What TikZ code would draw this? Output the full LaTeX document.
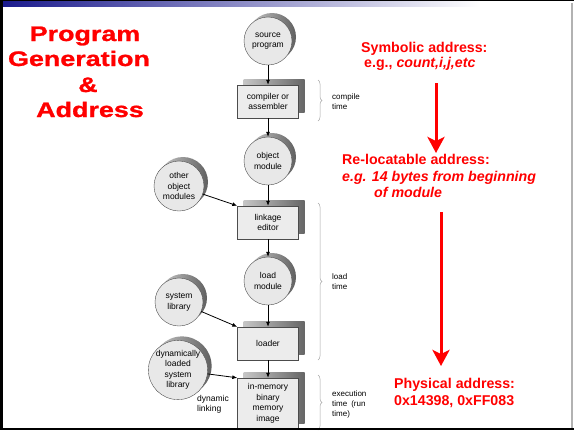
\documentclass[tikz,border=0pt]{standalone}
\usepackage{fontspec}
\setmainfont{Liberation Sans}
\newfontfamily\titlefont[FakeStretch=1.28,FakeBold=1.2]{Liberation Sans}
\usetikzlibrary{arrows.meta,shadows,decorations.pathreplacing}
\begin{document}
\begin{tikzpicture}[x=1pt,y=-1pt,
    modc/.style={circle, draw=gray!60!black, fill=gray!18, minimum size=48pt, inner sep=0pt,
      align=center, font=\fontsize{8.5}{10.5}\selectfont,
      general shadow={shadow xshift=4pt, shadow yshift=4pt, left color=gray!40, right color=gray!75!black}},
    prog/.style={rectangle, draw=gray!60!black, fill=gray!15, minimum width=61pt, minimum height=33pt,
      inner sep=1pt, align=center, font=\fontsize{8.5}{10.5}\selectfont,
      general shadow={shadow xshift=6pt, shadow yshift=6pt, left color=gray!45, right color=gray!80!black}},
    arr/.style={-{Latex[length=5pt,width=4pt]}, line width=0.8pt},
    redarr/.style={draw=red, line width=3pt, -{Stealth[length=16pt,width=17pt,inset=4pt]}},
    brc/.style={decorate, decoration={brace, amplitude=4pt}, draw=gray!70, line width=0.5pt},
    lbl/.style={anchor=west, align=left, inner sep=0pt, font=\fontsize{8}{10}\selectfont},
    big/.style={anchor=base west, inner sep=0pt, text=red, font=\fontsize{14.2}{17}\selectfont\bfseries},
    ttl/.style={anchor=base, inner sep=0pt, text=red, font=\titlefont\fontsize{21}{25}\selectfont\bfseries}]
    \useasboundingbox (0,0) rectangle (574,432);
    % slide frame
    \fill[black] (0,0) rectangle (574,1.2);
    \shade[left color={rgb,255:red,25;green,25;blue,140}, right color=white] (0,1.2) rectangle (480,6);
    \fill[gray!60] (571,3) rectangle (573,430);
    % title
    \node[ttl] (t1) at (85,41) {Program};
    \node[ttl] (t2) at (79,66) {Generation};
    \node[ttl] (t3) at (88,92) {\&};
    \node[ttl] (t4) at (90,117) {Address};
    % main chain
    \node[modc] (src) at (268,41) {source\\program};
    \node[prog] (comp) at (268,101.5) {compiler or\\assembler};
    \node[modc] (obj) at (268,161) {object\\module};
    \node[prog] (link) at (268,222.5) {linkage\\editor};
    \node[modc] (load) at (268,281) {load\\module};
    \node[prog] (ldr) at (268,343.5) {loader};
    \node[prog, minimum height=51pt] (mem) at (268,403.5) {in-memory\\binary\\memory\\image};
    % side inputs
    \node[modc, minimum size=50pt] (oth) at (179,186) {other\\object\\modules};
    \node[modc] (sys) at (179,302) {system\\library};
    \node[modc, minimum size=54pt] (dyn) at (178,370) {dynamically\\loaded\\system\\library};
    \node[lbl, font=\fontsize{8.5}{10.5}\selectfont] (dl) at (197,404.5) {dynamic\\linking};
    \draw[arr] (src) -- (comp);
    \draw[arr] (comp) -- (obj);
    \draw[arr] (obj) -- (link);
    \draw[arr] (link) -- (load);
    \draw[arr] (load) -- (ldr);
    \draw[arr] (ldr) -- (mem);
    \draw[arr] (oth) -- (link.north west);
    \draw[arr] (sys) -- (ldr.north west);
    \draw[arr] (dyn) -- (mem.north west);
    % time braces
    \coordinate (c1) at (318,80);
    \coordinate (c2) at (318,121);
    \coordinate (l1) at (318,203);
    \coordinate (l2) at (318,360);
    \coordinate (e1) at (318,375);
    \coordinate (e2) at (318,430);
    \draw[brc] (c1) -- (c2);
    \draw[brc] (l1) -- (l2);
    \draw[brc] (e1) -- (e2);
    \node[lbl] (ct) at (332,102) {compile\\time};
    \node[lbl] (lt) at (332,282) {load\\time};
    \node[lbl] (et) at (332,404) {execution\\time\enspace(run\\time)};
    % addresses
    \node[big] (sym1) at (361,52) {Symbolic address:};
    \node[big] (sym2) at (364,67) {e.g., \textit{count,i,j,etc}};
    \node[big] (rel1) at (342,164) {Re-locatable address:};
    \node[big] (rel2) at (342,181) {\textit{e.g. 14 bytes from beginning}};
    \node[big] (rel3) at (374,197) {\textit{of module}};
    \node[big] (phy1) at (394,388) {Physical address:};
    \node[big] (phy2) at (394,405) {0x14398, 0xFF083};
    \coordinate (ra1) at (436,83);
    \coordinate (ra2) at (436,153);
    \coordinate (rb1) at (441,212);
    \coordinate (rb2) at (441,366);
    \draw[redarr] (ra1) -- (ra2);
    \draw[redarr] (rb1) -- (rb2);
    % frame edges on top
    \fill[black] (0,0) rectangle (2.5,430);
    \fill[black] (0,427.5) rectangle (574,430);
  \end{tikzpicture}
\end{document}
